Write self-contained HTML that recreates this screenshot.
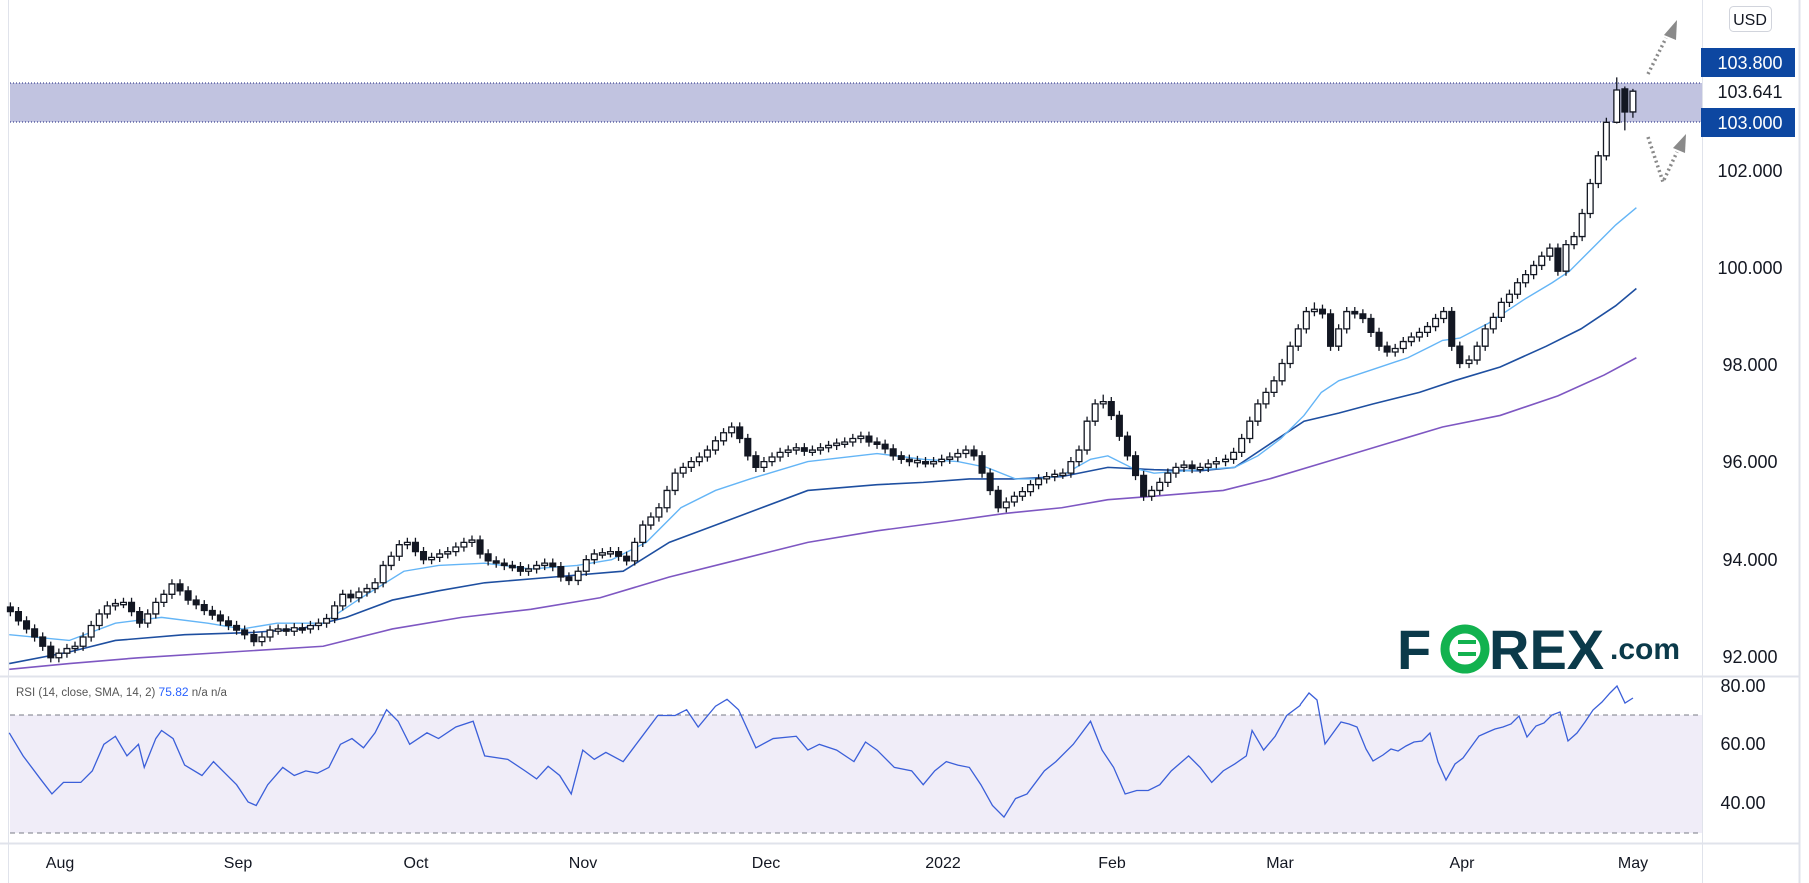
<!DOCTYPE html>
<html><head><meta charset="utf-8"><style>
html,body{margin:0;padding:0;background:#fff;}
body{width:1809px;height:883px;overflow:hidden;position:relative;font-family:"Liberation Sans",sans-serif;}
svg{position:absolute;left:0;top:0;}
.w{fill:#fff}.b{fill:#131722}
</style></head><body>
<svg width="1809" height="883" xmlns="http://www.w3.org/2000/svg">
<rect x="0" y="0" width="1809" height="883" fill="#fff"/>
<rect x="10" y="715" width="1692" height="118" fill="#f0edf8"/>
<line x1="10" y1="715" x2="1702" y2="715" stroke="#787b86" stroke-dasharray="5,4"/>
<line x1="10" y1="833" x2="1702" y2="833" stroke="#787b86" stroke-dasharray="5,4"/>
<rect x="10" y="83" width="1692" height="39" fill="#c1c3e0"/>
<line x1="10" y1="83" x2="1702" y2="83" stroke="#1a237e" stroke-dasharray="1,2"/>
<line x1="10" y1="122" x2="1702" y2="122" stroke="#1a237e" stroke-dasharray="1,2"/>
<line x1="8.5" y1="0" x2="8.5" y2="883" stroke="#e0e3eb"/>
<line x1="0" y1="676.5" x2="1799" y2="676.5" stroke="#e0e3eb" stroke-width="2"/>
<line x1="0" y1="843.5" x2="1799" y2="843.5" stroke="#e0e3eb" stroke-width="2"/>
<line x1="1702.5" y1="0" x2="1702.5" y2="883" stroke="#e0e3eb"/>
<line x1="1799.5" y1="0" x2="1799.5" y2="883" stroke="#e0e3eb" stroke-width="2"/>

<g transform="scale(1.154)">
<polyline vector-effect="non-scaling-stroke" fill="none" stroke="#7e57c2" stroke-width="1.6" points="8,580 60,575 120,570 200,565 280,560 340,545 400,535 460,528 520,518 580,500 640,485 700,470 760,460 820,452 870,445 920,440 960,433 1000,430 1060,425 1100,415 1150,400 1200,385 1250,370 1300,360 1350,343 1390,325 1418,310"/>
<polyline vector-effect="non-scaling-stroke" fill="none" stroke="#1e4fa0" stroke-width="1.6" points="8,575 60,565 100,555 160,550 220,548 260,545 300,535 340,520 380,512 420,505 480,500 540,495 580,470 620,455 660,440 700,425 760,420 800,418 840,415 880,415 920,413 960,405 1000,407 1040,408 1070,405 1100,385 1130,365 1160,358 1190,350 1230,340 1260,330 1300,318 1340,300 1370,285 1400,265 1418,250"/>
<polyline vector-effect="non-scaling-stroke" fill="none" stroke="#64b5f6" stroke-width="1.4" points="8,550 60,555 100,540 140,535 180,540 210,545 240,540 280,540 310,520 350,495 380,490 420,488 460,493 500,490 530,485 560,470 590,440 620,425 650,415 700,400 760,393 800,398 830,400 855,405 880,415 900,415 920,412 945,398 960,395 980,405 1000,410 1040,407 1070,405 1090,395 1110,380 1130,360 1145,340 1160,330 1190,320 1220,310 1240,300 1250,295 1265,293 1290,280 1320,260 1345,245 1360,235 1380,215 1400,195 1418,180"/>

<path vector-effect="non-scaling-stroke" fill="none" stroke="#131722" stroke-width="1.3" d="M9 522V534M16 526V542M23 534V549M30 541V556M37 548V564M44 556V574M51 562V574M58 558V570M65 556V566M72 548V564M79 538V556M86 528V546M93 521V536M100 519V529M107 518V527M114 518V534M121 526V544M128 528V544M135 518V536M142 511V526M149 502V519M156 502V516M163 508V524M170 516V528M177 520V533M184 525V537M191 529V542M198 534V546M205 538V550M212 542V554M220 546V560M227 548V560M234 542V556M241 541V550M248 541V551M255 540V551M262 540V549M269 538V549M276 536V546M283 532V544M290 521V540M297 511V529M304 511V522M311 509V522M318 506V517M325 501V514M332 486V509M339 478V494M346 468V486M353 466V476M360 466V482M367 474V489M374 479V489M381 476V487M388 474V484M395 470V482M402 466V478M409 464V474M416 464V484M423 476V490M430 482V492M437 484V494M444 486V495M451 487V499M458 489V499M465 486V497M472 484V494M479 484V495M486 487V504M493 496V507M501 491V507M508 481V499M515 476V489M522 475V484M529 474V483M536 474V486M543 478V490M550 466V490M557 451V474M564 444V459M571 436V452M578 421V444M585 406V429M592 401V414M599 396V409M606 392V404M613 386V400M620 378V394M627 371V386M634 366V379M641 366V384M648 376V399M655 391V409M662 396V409M669 392V404M676 388V400M683 386V396M690 384V394M697 384V395M704 386V395M711 384V394M718 382V392M725 380V390M732 379V388M739 376V387M746 374V384M753 374V387M760 379V389M767 381V393M774 385V399M781 391V402M788 394V404M795 395V405M802 396V405M809 396V405M816 394V404M823 392V402M830 389V400M837 386V397M844 386V399M851 391V414M858 406V429M865 421V444M872 431V444M879 426V439M886 422V434M893 416V430M900 411V424M907 409V419M914 407V417M921 406V415M928 396V414M935 386V404M942 361V394M949 346V369M956 342V354M963 344V364M970 356V382M977 374V399M984 391V416M991 408V434M998 421V434M1005 414V429M1012 406V422M1019 401V414M1026 399V409M1033 399V410M1040 401V410M1047 398V409M1054 396V406M1062 394V404M1069 388V402M1076 376V396M1083 361V384M1090 346V369M1097 336V354M1104 326V344M1111 311V334M1118 296V319M1125 281V304M1132 266V289M1139 262V274M1146 264V276M1153 268V304M1160 281V304M1167 266V289M1174 266V276M1181 268V280M1188 272V292M1195 284V304M1202 296V309M1209 298V309M1216 292V306M1223 288V300M1230 284V296M1237 279V292M1244 272V287M1251 266V280M1258 266V304M1265 296V319M1273 308V319M1280 296V316M1287 281V304M1294 271V289M1301 258V279M1308 251V266M1315 241V259M1322 234V249M1329 226V242M1336 218V234M1343 211V226M1350 211V239M1357 208V239M1364 201V216M1371 181V209M1378 155V189M1385 131V163M1392 102V139M1401 67V107M1408 75V113M1415 77V102"/>

<g stroke="#131722" stroke-width="1.3">
<rect vector-effect="non-scaling-stroke" class="b" x="6.5" y="526" width="5" height="4"/>
<rect vector-effect="non-scaling-stroke" class="b" x="13.5" y="530" width="5" height="8"/>
<rect vector-effect="non-scaling-stroke" class="b" x="20.5" y="538" width="5" height="7"/>
<rect vector-effect="non-scaling-stroke" class="b" x="27.5" y="545" width="5" height="7"/>
<rect vector-effect="non-scaling-stroke" class="b" x="34.5" y="552" width="5" height="8"/>
<rect vector-effect="non-scaling-stroke" class="b" x="41.5" y="560" width="5" height="10"/>
<rect vector-effect="non-scaling-stroke" class="w" x="48.5" y="566" width="5" height="4"/>
<rect vector-effect="non-scaling-stroke" class="w" x="55.5" y="562" width="5" height="4"/>
<rect vector-effect="non-scaling-stroke" class="w" x="62.5" y="560" width="5" height="2"/>
<rect vector-effect="non-scaling-stroke" class="w" x="69.5" y="552" width="5" height="8"/>
<rect vector-effect="non-scaling-stroke" class="w" x="76.5" y="542" width="5" height="10"/>
<rect vector-effect="non-scaling-stroke" class="w" x="83.5" y="532" width="5" height="10"/>
<rect vector-effect="non-scaling-stroke" class="w" x="90.5" y="525" width="5" height="7"/>
<rect vector-effect="non-scaling-stroke" class="w" x="97.5" y="523" width="5" height="2"/>
<rect vector-effect="non-scaling-stroke" class="w" x="104.5" y="522" width="5" height="2"/>
<rect vector-effect="non-scaling-stroke" class="b" x="111.5" y="522" width="5" height="8"/>
<rect vector-effect="non-scaling-stroke" class="b" x="118.5" y="530" width="5" height="10"/>
<rect vector-effect="non-scaling-stroke" class="w" x="125.5" y="532" width="5" height="8"/>
<rect vector-effect="non-scaling-stroke" class="w" x="132.5" y="522" width="5" height="10"/>
<rect vector-effect="non-scaling-stroke" class="w" x="139.5" y="515" width="5" height="7"/>
<rect vector-effect="non-scaling-stroke" class="w" x="146.5" y="506" width="5" height="9"/>
<rect vector-effect="non-scaling-stroke" class="b" x="153.5" y="506" width="5" height="6"/>
<rect vector-effect="non-scaling-stroke" class="b" x="160.5" y="512" width="5" height="8"/>
<rect vector-effect="non-scaling-stroke" class="b" x="167.5" y="520" width="5" height="4"/>
<rect vector-effect="non-scaling-stroke" class="b" x="174.5" y="524" width="5" height="5"/>
<rect vector-effect="non-scaling-stroke" class="b" x="181.5" y="529" width="5" height="4"/>
<rect vector-effect="non-scaling-stroke" class="b" x="188.5" y="533" width="5" height="5"/>
<rect vector-effect="non-scaling-stroke" class="b" x="195.5" y="538" width="5" height="4"/>
<rect vector-effect="non-scaling-stroke" class="b" x="202.5" y="542" width="5" height="4"/>
<rect vector-effect="non-scaling-stroke" class="b" x="209.5" y="546" width="5" height="4"/>
<rect vector-effect="non-scaling-stroke" class="b" x="217.5" y="550" width="5" height="6"/>
<rect vector-effect="non-scaling-stroke" class="w" x="224.5" y="552" width="5" height="4"/>
<rect vector-effect="non-scaling-stroke" class="w" x="231.5" y="546" width="5" height="6"/>
<rect vector-effect="non-scaling-stroke" class="w" x="238.5" y="545" width="5" height="2"/>
<rect vector-effect="non-scaling-stroke" class="b" x="245.5" y="545" width="5" height="2"/>
<rect vector-effect="non-scaling-stroke" class="w" x="252.5" y="544" width="5" height="3"/>
<rect vector-effect="non-scaling-stroke" class="b" x="259.5" y="544" width="5" height="2"/>
<rect vector-effect="non-scaling-stroke" class="w" x="266.5" y="542" width="5" height="3"/>
<rect vector-effect="non-scaling-stroke" class="w" x="273.5" y="540" width="5" height="2"/>
<rect vector-effect="non-scaling-stroke" class="w" x="280.5" y="536" width="5" height="4"/>
<rect vector-effect="non-scaling-stroke" class="w" x="287.5" y="525" width="5" height="11"/>
<rect vector-effect="non-scaling-stroke" class="w" x="294.5" y="515" width="5" height="10"/>
<rect vector-effect="non-scaling-stroke" class="b" x="301.5" y="515" width="5" height="3"/>
<rect vector-effect="non-scaling-stroke" class="w" x="308.5" y="513" width="5" height="5"/>
<rect vector-effect="non-scaling-stroke" class="w" x="315.5" y="510" width="5" height="3"/>
<rect vector-effect="non-scaling-stroke" class="w" x="322.5" y="505" width="5" height="5"/>
<rect vector-effect="non-scaling-stroke" class="w" x="329.5" y="490" width="5" height="15"/>
<rect vector-effect="non-scaling-stroke" class="w" x="336.5" y="482" width="5" height="8"/>
<rect vector-effect="non-scaling-stroke" class="w" x="343.5" y="472" width="5" height="10"/>
<rect vector-effect="non-scaling-stroke" class="w" x="350.5" y="470" width="5" height="2"/>
<rect vector-effect="non-scaling-stroke" class="b" x="357.5" y="470" width="5" height="8"/>
<rect vector-effect="non-scaling-stroke" class="b" x="364.5" y="478" width="5" height="7"/>
<rect vector-effect="non-scaling-stroke" class="w" x="371.5" y="483" width="5" height="2"/>
<rect vector-effect="non-scaling-stroke" class="w" x="378.5" y="480" width="5" height="3"/>
<rect vector-effect="non-scaling-stroke" class="w" x="385.5" y="478" width="5" height="2"/>
<rect vector-effect="non-scaling-stroke" class="w" x="392.5" y="474" width="5" height="4"/>
<rect vector-effect="non-scaling-stroke" class="w" x="399.5" y="470" width="5" height="4"/>
<rect vector-effect="non-scaling-stroke" class="w" x="406.5" y="468" width="5" height="2"/>
<rect vector-effect="non-scaling-stroke" class="b" x="413.5" y="468" width="5" height="12"/>
<rect vector-effect="non-scaling-stroke" class="b" x="420.5" y="480" width="5" height="6"/>
<rect vector-effect="non-scaling-stroke" class="b" x="427.5" y="486" width="5" height="2"/>
<rect vector-effect="non-scaling-stroke" class="b" x="434.5" y="488" width="5" height="2"/>
<rect vector-effect="non-scaling-stroke" class="b" x="441.5" y="490" width="5" height="2"/>
<rect vector-effect="non-scaling-stroke" class="b" x="448.5" y="491" width="5" height="4"/>
<rect vector-effect="non-scaling-stroke" class="w" x="455.5" y="493" width="5" height="2"/>
<rect vector-effect="non-scaling-stroke" class="w" x="462.5" y="490" width="5" height="3"/>
<rect vector-effect="non-scaling-stroke" class="w" x="469.5" y="488" width="5" height="2"/>
<rect vector-effect="non-scaling-stroke" class="b" x="476.5" y="488" width="5" height="3"/>
<rect vector-effect="non-scaling-stroke" class="b" x="483.5" y="491" width="5" height="9"/>
<rect vector-effect="non-scaling-stroke" class="b" x="490.5" y="500" width="5" height="3"/>
<rect vector-effect="non-scaling-stroke" class="w" x="498.5" y="495" width="5" height="8"/>
<rect vector-effect="non-scaling-stroke" class="w" x="505.5" y="485" width="5" height="10"/>
<rect vector-effect="non-scaling-stroke" class="w" x="512.5" y="480" width="5" height="5"/>
<rect vector-effect="non-scaling-stroke" class="w" x="519.5" y="479" width="5" height="2"/>
<rect vector-effect="non-scaling-stroke" class="w" x="526.5" y="478" width="5" height="2"/>
<rect vector-effect="non-scaling-stroke" class="b" x="533.5" y="478" width="5" height="4"/>
<rect vector-effect="non-scaling-stroke" class="b" x="540.5" y="482" width="5" height="4"/>
<rect vector-effect="non-scaling-stroke" class="w" x="547.5" y="470" width="5" height="16"/>
<rect vector-effect="non-scaling-stroke" class="w" x="554.5" y="455" width="5" height="15"/>
<rect vector-effect="non-scaling-stroke" class="w" x="561.5" y="448" width="5" height="7"/>
<rect vector-effect="non-scaling-stroke" class="w" x="568.5" y="440" width="5" height="8"/>
<rect vector-effect="non-scaling-stroke" class="w" x="575.5" y="425" width="5" height="15"/>
<rect vector-effect="non-scaling-stroke" class="w" x="582.5" y="410" width="5" height="15"/>
<rect vector-effect="non-scaling-stroke" class="w" x="589.5" y="405" width="5" height="5"/>
<rect vector-effect="non-scaling-stroke" class="w" x="596.5" y="400" width="5" height="5"/>
<rect vector-effect="non-scaling-stroke" class="w" x="603.5" y="396" width="5" height="4"/>
<rect vector-effect="non-scaling-stroke" class="w" x="610.5" y="390" width="5" height="6"/>
<rect vector-effect="non-scaling-stroke" class="w" x="617.5" y="382" width="5" height="8"/>
<rect vector-effect="non-scaling-stroke" class="w" x="624.5" y="375" width="5" height="7"/>
<rect vector-effect="non-scaling-stroke" class="w" x="631.5" y="370" width="5" height="5"/>
<rect vector-effect="non-scaling-stroke" class="b" x="638.5" y="370" width="5" height="10"/>
<rect vector-effect="non-scaling-stroke" class="b" x="645.5" y="380" width="5" height="15"/>
<rect vector-effect="non-scaling-stroke" class="b" x="652.5" y="395" width="5" height="10"/>
<rect vector-effect="non-scaling-stroke" class="w" x="659.5" y="400" width="5" height="5"/>
<rect vector-effect="non-scaling-stroke" class="w" x="666.5" y="396" width="5" height="4"/>
<rect vector-effect="non-scaling-stroke" class="w" x="673.5" y="392" width="5" height="4"/>
<rect vector-effect="non-scaling-stroke" class="w" x="680.5" y="390" width="5" height="2"/>
<rect vector-effect="non-scaling-stroke" class="w" x="687.5" y="388" width="5" height="2"/>
<rect vector-effect="non-scaling-stroke" class="b" x="694.5" y="388" width="5" height="3"/>
<rect vector-effect="non-scaling-stroke" class="w" x="701.5" y="390" width="5" height="2"/>
<rect vector-effect="non-scaling-stroke" class="w" x="708.5" y="388" width="5" height="2"/>
<rect vector-effect="non-scaling-stroke" class="w" x="715.5" y="386" width="5" height="2"/>
<rect vector-effect="non-scaling-stroke" class="w" x="722.5" y="384" width="5" height="2"/>
<rect vector-effect="non-scaling-stroke" class="w" x="729.5" y="383" width="5" height="2"/>
<rect vector-effect="non-scaling-stroke" class="w" x="736.5" y="380" width="5" height="3"/>
<rect vector-effect="non-scaling-stroke" class="w" x="743.5" y="378" width="5" height="2"/>
<rect vector-effect="non-scaling-stroke" class="b" x="750.5" y="378" width="5" height="5"/>
<rect vector-effect="non-scaling-stroke" class="b" x="757.5" y="383" width="5" height="2"/>
<rect vector-effect="non-scaling-stroke" class="b" x="764.5" y="385" width="5" height="4"/>
<rect vector-effect="non-scaling-stroke" class="b" x="771.5" y="389" width="5" height="6"/>
<rect vector-effect="non-scaling-stroke" class="b" x="778.5" y="395" width="5" height="3"/>
<rect vector-effect="non-scaling-stroke" class="b" x="785.5" y="398" width="5" height="2"/>
<rect vector-effect="non-scaling-stroke" class="w" x="792.5" y="399" width="5" height="2"/>
<rect vector-effect="non-scaling-stroke" class="b" x="799.5" y="400" width="5" height="2"/>
<rect vector-effect="non-scaling-stroke" class="w" x="806.5" y="400" width="5" height="2"/>
<rect vector-effect="non-scaling-stroke" class="w" x="813.5" y="398" width="5" height="2"/>
<rect vector-effect="non-scaling-stroke" class="w" x="820.5" y="396" width="5" height="2"/>
<rect vector-effect="non-scaling-stroke" class="w" x="827.5" y="393" width="5" height="3"/>
<rect vector-effect="non-scaling-stroke" class="w" x="834.5" y="390" width="5" height="3"/>
<rect vector-effect="non-scaling-stroke" class="b" x="841.5" y="390" width="5" height="5"/>
<rect vector-effect="non-scaling-stroke" class="b" x="848.5" y="395" width="5" height="15"/>
<rect vector-effect="non-scaling-stroke" class="b" x="855.5" y="410" width="5" height="15"/>
<rect vector-effect="non-scaling-stroke" class="b" x="862.5" y="425" width="5" height="15"/>
<rect vector-effect="non-scaling-stroke" class="w" x="869.5" y="435" width="5" height="5"/>
<rect vector-effect="non-scaling-stroke" class="w" x="876.5" y="430" width="5" height="5"/>
<rect vector-effect="non-scaling-stroke" class="w" x="883.5" y="426" width="5" height="4"/>
<rect vector-effect="non-scaling-stroke" class="w" x="890.5" y="420" width="5" height="6"/>
<rect vector-effect="non-scaling-stroke" class="w" x="897.5" y="415" width="5" height="5"/>
<rect vector-effect="non-scaling-stroke" class="w" x="904.5" y="413" width="5" height="2"/>
<rect vector-effect="non-scaling-stroke" class="w" x="911.5" y="411" width="5" height="2"/>
<rect vector-effect="non-scaling-stroke" class="w" x="918.5" y="410" width="5" height="2"/>
<rect vector-effect="non-scaling-stroke" class="w" x="925.5" y="400" width="5" height="10"/>
<rect vector-effect="non-scaling-stroke" class="w" x="932.5" y="390" width="5" height="10"/>
<rect vector-effect="non-scaling-stroke" class="w" x="939.5" y="365" width="5" height="25"/>
<rect vector-effect="non-scaling-stroke" class="w" x="946.5" y="350" width="5" height="15"/>
<rect vector-effect="non-scaling-stroke" class="w" x="953.5" y="348" width="5" height="2"/>
<rect vector-effect="non-scaling-stroke" class="b" x="960.5" y="348" width="5" height="12"/>
<rect vector-effect="non-scaling-stroke" class="b" x="967.5" y="360" width="5" height="18"/>
<rect vector-effect="non-scaling-stroke" class="b" x="974.5" y="378" width="5" height="17"/>
<rect vector-effect="non-scaling-stroke" class="b" x="981.5" y="395" width="5" height="17"/>
<rect vector-effect="non-scaling-stroke" class="b" x="988.5" y="412" width="5" height="18"/>
<rect vector-effect="non-scaling-stroke" class="w" x="995.5" y="425" width="5" height="5"/>
<rect vector-effect="non-scaling-stroke" class="w" x="1002.5" y="418" width="5" height="7"/>
<rect vector-effect="non-scaling-stroke" class="w" x="1009.5" y="410" width="5" height="8"/>
<rect vector-effect="non-scaling-stroke" class="w" x="1016.5" y="405" width="5" height="5"/>
<rect vector-effect="non-scaling-stroke" class="w" x="1023.5" y="403" width="5" height="2"/>
<rect vector-effect="non-scaling-stroke" class="b" x="1030.5" y="403" width="5" height="3"/>
<rect vector-effect="non-scaling-stroke" class="w" x="1037.5" y="405" width="5" height="2"/>
<rect vector-effect="non-scaling-stroke" class="w" x="1044.5" y="402" width="5" height="3"/>
<rect vector-effect="non-scaling-stroke" class="w" x="1051.5" y="400" width="5" height="2"/>
<rect vector-effect="non-scaling-stroke" class="w" x="1059.5" y="398" width="5" height="2"/>
<rect vector-effect="non-scaling-stroke" class="w" x="1066.5" y="392" width="5" height="6"/>
<rect vector-effect="non-scaling-stroke" class="w" x="1073.5" y="380" width="5" height="12"/>
<rect vector-effect="non-scaling-stroke" class="w" x="1080.5" y="365" width="5" height="15"/>
<rect vector-effect="non-scaling-stroke" class="w" x="1087.5" y="350" width="5" height="15"/>
<rect vector-effect="non-scaling-stroke" class="w" x="1094.5" y="340" width="5" height="10"/>
<rect vector-effect="non-scaling-stroke" class="w" x="1101.5" y="330" width="5" height="10"/>
<rect vector-effect="non-scaling-stroke" class="w" x="1108.5" y="315" width="5" height="15"/>
<rect vector-effect="non-scaling-stroke" class="w" x="1115.5" y="300" width="5" height="15"/>
<rect vector-effect="non-scaling-stroke" class="w" x="1122.5" y="285" width="5" height="15"/>
<rect vector-effect="non-scaling-stroke" class="w" x="1129.5" y="270" width="5" height="15"/>
<rect vector-effect="non-scaling-stroke" class="w" x="1136.5" y="268" width="5" height="2"/>
<rect vector-effect="non-scaling-stroke" class="b" x="1143.5" y="268" width="5" height="4"/>
<rect vector-effect="non-scaling-stroke" class="b" x="1150.5" y="272" width="5" height="28"/>
<rect vector-effect="non-scaling-stroke" class="w" x="1157.5" y="285" width="5" height="15"/>
<rect vector-effect="non-scaling-stroke" class="w" x="1164.5" y="270" width="5" height="15"/>
<rect vector-effect="non-scaling-stroke" class="b" x="1171.5" y="270" width="5" height="2"/>
<rect vector-effect="non-scaling-stroke" class="b" x="1178.5" y="272" width="5" height="4"/>
<rect vector-effect="non-scaling-stroke" class="b" x="1185.5" y="276" width="5" height="12"/>
<rect vector-effect="non-scaling-stroke" class="b" x="1192.5" y="288" width="5" height="12"/>
<rect vector-effect="non-scaling-stroke" class="b" x="1199.5" y="300" width="5" height="5"/>
<rect vector-effect="non-scaling-stroke" class="w" x="1206.5" y="302" width="5" height="3"/>
<rect vector-effect="non-scaling-stroke" class="w" x="1213.5" y="296" width="5" height="6"/>
<rect vector-effect="non-scaling-stroke" class="w" x="1220.5" y="292" width="5" height="4"/>
<rect vector-effect="non-scaling-stroke" class="w" x="1227.5" y="288" width="5" height="4"/>
<rect vector-effect="non-scaling-stroke" class="w" x="1234.5" y="283" width="5" height="5"/>
<rect vector-effect="non-scaling-stroke" class="w" x="1241.5" y="276" width="5" height="7"/>
<rect vector-effect="non-scaling-stroke" class="w" x="1248.5" y="270" width="5" height="6"/>
<rect vector-effect="non-scaling-stroke" class="b" x="1255.5" y="270" width="5" height="30"/>
<rect vector-effect="non-scaling-stroke" class="b" x="1262.5" y="300" width="5" height="15"/>
<rect vector-effect="non-scaling-stroke" class="w" x="1270.5" y="312" width="5" height="3"/>
<rect vector-effect="non-scaling-stroke" class="w" x="1277.5" y="300" width="5" height="12"/>
<rect vector-effect="non-scaling-stroke" class="w" x="1284.5" y="285" width="5" height="15"/>
<rect vector-effect="non-scaling-stroke" class="w" x="1291.5" y="275" width="5" height="10"/>
<rect vector-effect="non-scaling-stroke" class="w" x="1298.5" y="262" width="5" height="13"/>
<rect vector-effect="non-scaling-stroke" class="w" x="1305.5" y="255" width="5" height="7"/>
<rect vector-effect="non-scaling-stroke" class="w" x="1312.5" y="245" width="5" height="10"/>
<rect vector-effect="non-scaling-stroke" class="w" x="1319.5" y="238" width="5" height="7"/>
<rect vector-effect="non-scaling-stroke" class="w" x="1326.5" y="230" width="5" height="8"/>
<rect vector-effect="non-scaling-stroke" class="w" x="1333.5" y="222" width="5" height="8"/>
<rect vector-effect="non-scaling-stroke" class="w" x="1340.5" y="215" width="5" height="7"/>
<rect vector-effect="non-scaling-stroke" class="b" x="1347.5" y="215" width="5" height="20"/>
<rect vector-effect="non-scaling-stroke" class="w" x="1354.5" y="212" width="5" height="23"/>
<rect vector-effect="non-scaling-stroke" class="w" x="1361.5" y="205" width="5" height="7"/>
<rect vector-effect="non-scaling-stroke" class="w" x="1368.5" y="185" width="5" height="20"/>
<rect vector-effect="non-scaling-stroke" class="w" x="1375.5" y="159" width="5" height="26"/>
<rect vector-effect="non-scaling-stroke" class="w" x="1382.5" y="135" width="5" height="24"/>
<rect vector-effect="non-scaling-stroke" class="w" x="1389.5" y="106" width="5" height="29"/>
<rect vector-effect="non-scaling-stroke" class="w" x="1398.5" y="78" width="5" height="28"/>
<rect vector-effect="non-scaling-stroke" class="b" x="1405.5" y="77" width="5" height="20"/>
<rect vector-effect="non-scaling-stroke" class="w" x="1412.5" y="79" width="5" height="18"/>
</g>

<polyline vector-effect="non-scaling-stroke" fill="none" stroke="#3b5fd9" stroke-width="1.3" points="8,635 20,655 35,675 45,688 55,678 70,678 80,668 90,645 100,638 110,655 120,645 125,665 135,640 140,633 150,640 160,663 175,672 185,660 195,670 205,680 215,695 222,698 232,680 245,665 255,672 265,668 275,670 285,665 295,645 305,640 315,648 325,635 335,615 345,625 355,645 370,635 380,640 395,630 410,625 420,655 440,658 455,668 465,675 475,664 485,672 495,688 505,650 515,658 525,652 540,660 555,640 570,620 585,620 595,615 605,630 620,612 630,606 640,615 655,648 670,640 690,638 700,650 710,645 725,650 740,660 750,643 760,650 775,665 790,668 800,680 810,668 820,660 830,663 840,665 850,680 860,698 870,708 880,692 890,688 905,668 915,660 930,645 945,625 955,650 965,665 975,688 985,685 995,685 1005,680 1015,668 1030,655 1040,665 1050,678 1060,668 1070,662 1080,655 1085,633 1095,650 1105,638 1115,620 1127,611"/>
</g>

<polyline fill="none" stroke="#3b5fd9" stroke-width="1.3" points="1300,705 1309,693 1317,700 1325,744 1341,722 1349,724 1357,727 1366,749 1373,761 1383,755 1391,749 1398,751 1406,746 1414,742 1422,741 1430,733 1438,762 1446,780 1455,764 1463,758 1471,747 1479,736 1488,732 1495,729 1503,727 1511,724 1519,716 1527,737 1536,726 1544,723 1552,715 1560,712 1568,741 1577,733 1585,722 1593,710 1602,702 1610,693 1617,686 1625,703 1633,698"/>

<g fill="none" stroke="#8a8a8a" stroke-width="3.5" stroke-dasharray="2,3">
<line x1="1648" y1="74" x2="1666" y2="38"/>
<polyline points="1648,137 1663,182 1677,152"/>
</g>
<polygon points="1677,20 1664,35 1676,40" fill="#8a8a8a"/>
<polygon points="1686,134 1673,148 1685,153" fill="#8a8a8a"/>
<g font-size="18" fill="#131722" text-anchor="middle">
<rect x="1729.5" y="6.5" width="42" height="25" rx="4" fill="#fff" stroke="#d1d4dc"/>
<text x="1750" y="25" font-size="16">USD</text>
<rect x="1701" y="48" width="94" height="29" fill="#0d47a1"/>
<text x="1750" y="69" fill="#fff">103.800</text>
<text x="1750" y="98">103.641</text>
<rect x="1701" y="108" width="94" height="29" fill="#0d47a1"/>
<text x="1750" y="129" fill="#fff">103.000</text>
<text x="1750" y="177">102.000</text>
<text x="1750" y="274">100.000</text>
<text x="1750" y="371">98.000</text>
<text x="1750" y="468">96.000</text>
<text x="1750" y="566">94.000</text>
<text x="1750" y="663">92.000</text>
<text x="1743" y="692">80.00</text>
<text x="1743" y="750">60.00</text>
<text x="1743" y="809">40.00</text>
</g>
<g font-size="16" fill="#131722" text-anchor="middle">
<text x="60" y="868">Aug</text><text x="238" y="868">Sep</text><text x="416" y="868">Oct</text>
<text x="583" y="868">Nov</text><text x="766" y="868">Dec</text><text x="943" y="868">2022</text>
<text x="1112" y="868">Feb</text><text x="1280" y="868">Mar</text><text x="1462" y="868">Apr</text>
<text x="1633" y="868">May</text>
</g>
<text x="16" y="696" font-size="11.5" fill="#555">RSI (14, close, SMA, 14, 2) <tspan fill="#2962ff" font-size="12">75.82</tspan>  n/a  n/a</text>
<g font-weight="bold">
<text x="1397" y="669" font-size="56" fill="#0b3a4a">F</text>
<circle cx="1465" cy="649" r="20" fill="none" stroke="#12b24f" stroke-width="9"/>
<rect x="1458" y="640" width="18" height="4" fill="#12b24f"/><rect x="1458" y="652" width="18" height="4" fill="#12b24f"/>
<text x="1489" y="669" font-size="56" fill="#0b3a4a">REX</text>
<text x="1610" y="659" font-size="30" fill="#0b3a4a">.com</text>
</g>
</svg>
</body></html>
